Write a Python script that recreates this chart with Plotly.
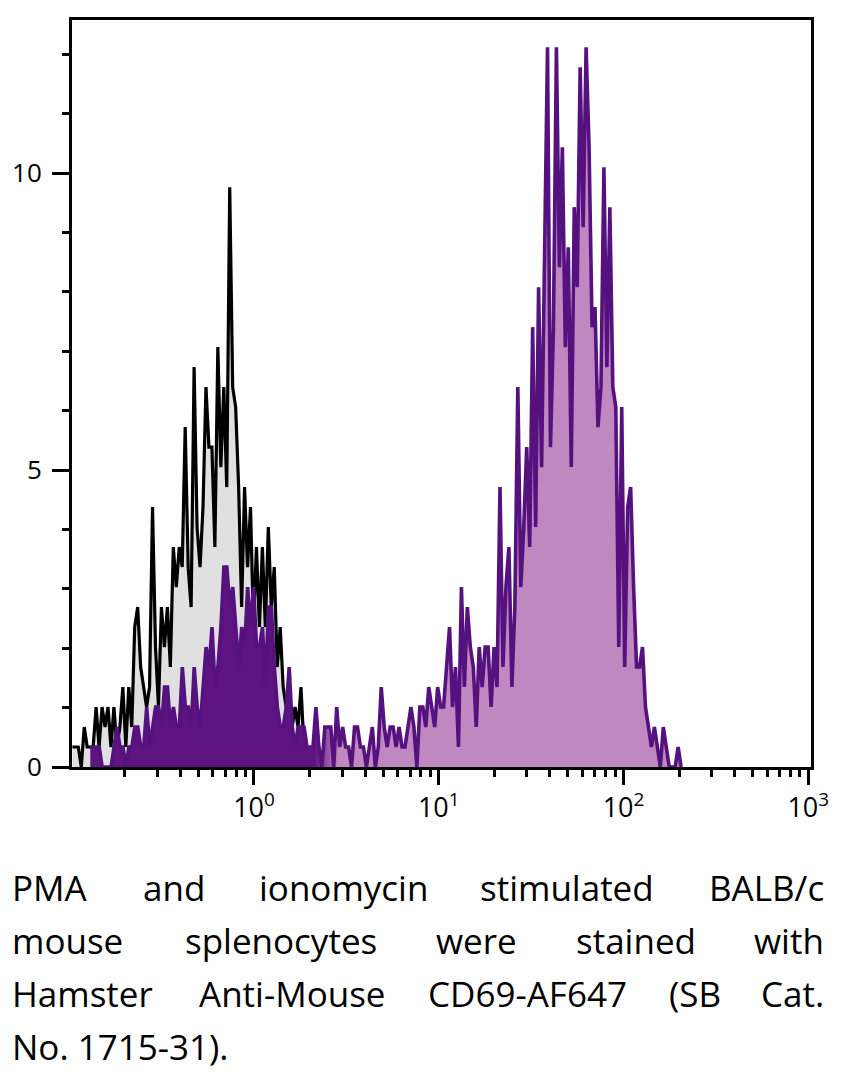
import numpy as np
import plotly.graph_objects as go

# ---------------- data ----------------
# histogram channels are evenly spaced in log10 space
BIN_STEP_DEC = 0.01607          # width of one channel, in decades
EVENTS_PER_UNIT = 2.97          # events per y-axis unit

# unstained / isotype control (grey filled, black outline)
control_first_bin_log = -0.983
control_counts = [1, 1, 1, 0, 2, 1, 1, 1, 3, 1,
                  3, 2, 3, 1, 3, 1, 2, 4, 1, 4,
                  2, 7, 8, 5, 4, 3, 4, 13, 6, 3,
                  8, 6, 8, 5, 11, 9, 11, 10, 17, 10,
                  8, 20, 12, 10, 13, 19, 16, 16, 11, 21,
                  15, 19, 14, 29, 19, 18, 14, 8, 14, 10,
                  13, 7, 11, 7, 11, 7, 12, 8, 10, 5,
                  7, 4, 3, 4, 2, 3, 2, 4, 1, 0]

# CD69-AF647 stained (purple)
stained_first_bin_log = -0.886
stained_counts = [1, 1, 1, 1, 0, 0, 0, 0, 1, 2,
                  1, 1, 0, 1, 1, 2, 2, 1, 1, 3,
                  1, 2, 3, 3, 2, 4, 4, 2, 3, 2,
                  2, 5, 3, 3, 2, 5, 3, 2, 4, 6,
                  5, 7, 4, 5, 7, 10, 10, 8, 9, 7,
                  5, 7, 6, 9, 7, 9, 6, 6, 7, 4,
                  8, 8, 5, 3, 2, 2, 3, 5, 2, 1,
                  2, 2, 2, 1, 1, 1, 3, 1, 0, 2,
                  2, 2, 0, 3, 1, 2, 1, 1, 0, 2,
                  2, 1, 1, 0, 1, 2, 0, 1, 4, 2,
                  1, 2, 2, 1, 2, 1, 1, 2, 3, 2,
                  0, 3, 3, 2, 4, 3, 2, 4, 3, 3,
                  5, 7, 3, 5, 1, 9, 4, 8, 6, 5,
                  2, 6, 4, 6, 6, 3, 6, 4, 14, 5,
                  9, 11, 4, 8, 19, 9, 12, 16, 11, 22,
                  12, 24, 15, 25, 36, 16, 22, 36, 25, 31,
                  21, 26, 15, 28, 24, 35, 27, 36, 31, 22,
                  23, 17, 19, 30, 20, 28, 19, 18, 6, 18,
                  5, 13, 14, 9, 5, 5, 6, 3, 2, 1,
                  2, 1, 0, 2, 1, 0, 0, 0, 1, 0]

x_tick_vals = [1, 10, 100, 1000]
x_tick_text = ["10<sup>0</sup>", "10<sup>1</sup>", "10<sup>2</sup>", "10<sup>3</sup>"]
y_tick_vals = [0, 5, 10]
y_tick_text = ["0", "5", "10"]
y_minor_vals = [1, 2, 3, 4, 6, 7, 8, 9, 11, 12]

caption_lines = [
    ["PMA", "and", "ionomycin", "stimulated", "BALB/c"],
    ["mouse", "splenocytes", "were", "stained", "with"],
    ["Hamster", "Anti-Mouse", "CD69-AF647", "(SB", "Cat."],
    ["No. 1715-31)."],
]

# ---------------- build ----------------
def channel_centers(first_log, n):
    return 10 ** (first_log + BIN_STEP_DEC * np.arange(n))

ctrl_x = channel_centers(control_first_bin_log, len(control_counts))
ctrl_y = np.array(control_counts) / EVENTS_PER_UNIT
stn_x = channel_centers(stained_first_bin_log, len(stained_counts))
stn_y = np.array(stained_counts) / EVENTS_PER_UNIT

x_minor_vals = [m * 10.0 ** e for e in range(-1, 3) for m in range(2, 10)]

W, H = 842, 1073
ML, MR, MT, MB = 65, 31, 20, 306
PW, PH = W - ML - MR, H - MT - MB

fig = go.Figure()
fig.add_trace(go.Scatter(
    x=ctrl_x, y=ctrl_y, mode="lines", fill="tozeroy",
    fillcolor="#e0e0e0", line=dict(color="black", width=3.2),
    hoverinfo="skip", showlegend=False))
fig.add_trace(go.Scatter(
    x=stn_x, y=stn_y, mode="lines", fill="tozeroy",
    fillcolor="#c088c0",
    fillgradient=dict(type="horizontal",
                      colorscale=[[0, "#5e1480"], [0.38, "#5e1480"],
                                  [0.42, "#c088c0"], [1, "#c088c0"]]),
    line=dict(color="#55127f", width=3.6),
    hoverinfo="skip", showlegend=False))

font_family = "Open Sans, Lato, DejaVu Sans, sans-serif"

fig.update_xaxes(
    type="log", range=[-0.985, 3.015],
    showline=True, linecolor="black", linewidth=3, mirror=True,
    showgrid=False, zeroline=False,
    tickmode="array", tickvals=x_tick_vals, ticktext=x_tick_text,
    ticks="outside", ticklen=15, tickwidth=3, tickcolor="black",
    ticklabelstandoff=0,
    tickfont=dict(family=font_family, size=27, color="black"),
    minor=dict(tickmode="array", tickvals=x_minor_vals, ticks="outside",
               ticklen=7, tickwidth=3, tickcolor="black", showgrid=False),
)
fig.update_yaxes(
    range=[0, 12.58],
    showline=True, linecolor="black", linewidth=3, mirror=True,
    showgrid=False, zeroline=False,
    tickmode="array", tickvals=y_tick_vals, ticktext=y_tick_text,
    ticks="outside", ticklen=17, tickwidth=3, tickcolor="black",
    ticklabelstandoff=5,
    tickfont=dict(family=font_family, size=26, color="black"),
    minor=dict(tickmode="array", tickvals=y_minor_vals, ticks="outside",
               ticklen=7, tickwidth=3, tickcolor="black", showgrid=False),
)

# caption (justified: first word at left edge, last at right edge)
def px_to_paper_x(px):
    return (px - ML) / PW

def py_to_paper_y(py):
    return (H - MB - py) / PH

line_y = [887, 940, 993, 1046]
word_left = [
    [2, 135, 252, 475, None],
    [2, 177, 430, 572, None],
    [2, 191, 422, 666, None],
    [2],
]
annotations = []
for words, lefts, ly in zip(caption_lines, word_left, line_y):
    for w, lx in zip(words, lefts):
        if lx is None:
            annotations.append(dict(text=w, x=px_to_paper_x(826), xanchor="right"))
        else:
            annotations.append(dict(text=w, x=px_to_paper_x(lx), xanchor="left"))
        annotations[-1].update(y=py_to_paper_y(ly), yanchor="middle",
                               xref="paper", yref="paper", showarrow=False,
                               font=dict(family=font_family, size=35, color="black"))

fig.update_layout(
    width=W, height=H,
    margin=dict(l=ML, r=MR, t=MT, b=MB),
    paper_bgcolor="white", plot_bgcolor="white",
    annotations=annotations,
)

fig.write_html("out.html",
               config={"displayModeBar": False},
               post_script="document.body.style.margin='0px';document.body.style.overflow='hidden';")
